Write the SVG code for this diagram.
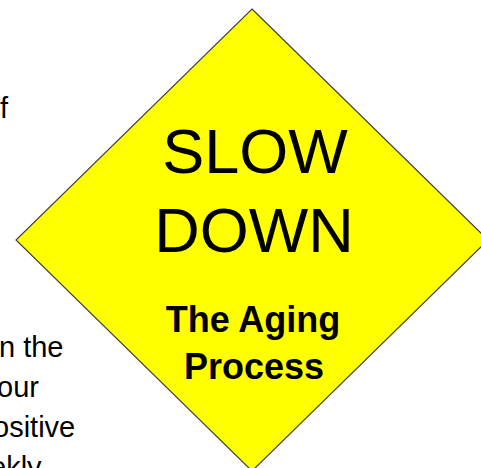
<svg xmlns="http://www.w3.org/2000/svg" width="481" height="468" viewBox="0 0 481 468">
<style>
.side{font-family:"Liberation Sans",Arial,sans-serif;font-size:29px;fill:#000}
.big{font-family:"Liberation Sans",Arial,sans-serif;font-size:63px;fill:#000;text-anchor:middle}
.sub{font-family:"Liberation Sans",Arial,sans-serif;font-size:36px;font-weight:bold;fill:#000;text-anchor:middle}
</style>
<rect width="481" height="468" fill="#fff"/>
<g id="side-text">
<text class="side" x="0" y="118">f</text>
<text class="side" x="-1" y="357">n the</text>
<text class="side" x="-3" y="397">our</text>
<text class="side" x="-7" y="437">ositive</text>
<text class="side" x="-10" y="477">ekly</text>
</g>
<g id="sign">
<polygon points="252,9 488,240 252,471 16,240" fill="#ffff00" stroke="#404040" stroke-width="1.2"/>
<text class="big" x="255" y="173">SLOW</text>
<text class="big" x="254" y="252">DOWN</text>
<text class="sub" x="253" y="332">The Aging</text>
<text class="sub" x="254" y="379">Process</text>
</g>
</svg>
